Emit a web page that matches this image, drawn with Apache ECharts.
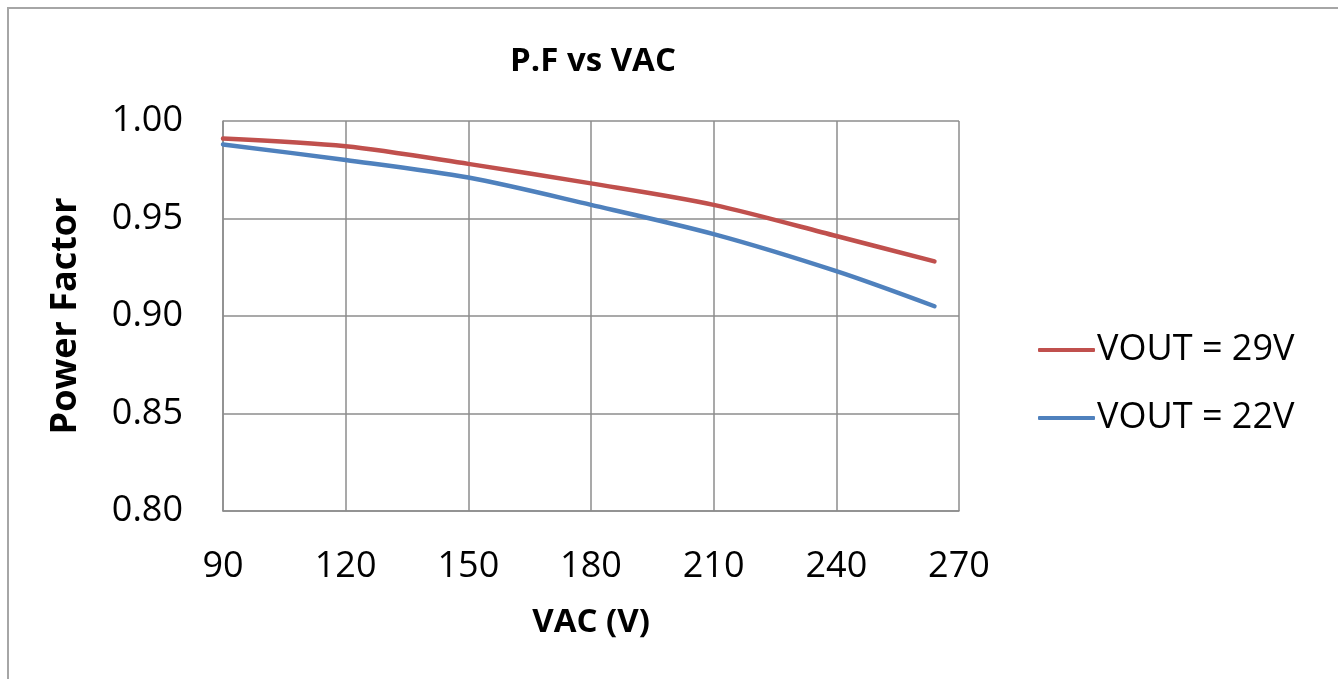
<!DOCTYPE html>
<html>
<head>
<meta charset="utf-8">
<script src="https://cdn.jsdelivr.net/npm/echarts@6/dist/echarts.min.js"></script>
<style>
html,body{margin:0;padding:0;background:#fff;}
#chart{width:1338px;height:679px;}
</style>
</head>
<body>
<div id="chart"></div>
<script>
const vac = [90, 120, 150, 180, 210, 240, 264];
const pf29 = [0.991, 0.987, 0.978, 0.968, 0.957, 0.941, 0.928];
const pf22 = [0.988, 0.980, 0.971, 0.957, 0.942, 0.923, 0.905];
const seriesNames = ['VOUT = 29V', 'VOUT = 22V'];

const FONT = '"Open Sans", "DejaVu Sans", sans-serif';
const chart = echarts.init(document.getElementById('chart'));
chart.setOption({
  animation: false,
  backgroundColor: '#ffffff',
  title: {
    text: 'P.F vs VAC',
    left: 588,
    top: 40,
    textAlign: 'center',
    textStyle: { fontFamily: FONT, fontWeight: 'bold', fontSize: 33, color: '#000' }
  },
  graphic: [{
    type: 'rect',
    shape: { x: 8, y: 8, width: 1400, height: 700 },
    style: { fill: 'none', stroke: '#a6a6a6', lineWidth: 2 },
    silent: true
  }],
  legend: {
    orient: 'vertical',
    left: 1033,
    top: 325,
    itemWidth: 57,
    itemHeight: 4,
    itemGap: 28,
    icon: 'roundRect',
    textStyle: { fontFamily: FONT, fontSize: 36, color: '#000', lineHeight: 40, padding: [0, 0, 0, -3] },
    data: seriesNames
  },
  grid: { left: 223, top: 121, right: 379, bottom: 168, containLabel: false },
  xAxis: {
    type: 'value',
    min: 90, max: 270, interval: 30,
    name: 'VAC (V)',
    nameLocation: 'middle',
    nameGap: 95,
    nameTextStyle: { fontFamily: FONT, fontWeight: 'bold', fontSize: 33, color: '#000' },
    axisLine: { show: true, lineStyle: { color: '#8c8c8c', width: 1.5 } },
    axisTick: { show: false },
    splitLine: { show: true, lineStyle: { color: '#8c8c8c', width: 1.5 } },
    axisLabel: { fontFamily: FONT, fontSize: 36, color: '#000', margin: 38 }
  },
  yAxis: {
    type: 'value',
    min: 0.8, max: 1.0, interval: 0.05,
    name: 'Power Factor',
    nameLocation: 'middle',
    nameGap: 139,
    nameTextStyle: { fontFamily: FONT, fontWeight: 'bold', fontSize: 36, color: '#000' },
    axisLine: { show: true, lineStyle: { color: '#8c8c8c', width: 1.5 } },
    axisTick: { show: false },
    splitLine: { show: true, lineStyle: { color: '#8c8c8c', width: 1.5 } },
    axisLabel: { fontFamily: FONT, fontSize: 36, color: '#000', margin: 40,
      formatter: v => v.toFixed(2) }
  },
  series: [
    {
      name: seriesNames[0], type: 'line', smooth: 0.3, showSymbol: false, symbol: 'none',
      data: vac.map((x, i) => [x, pf29[i]]),
      lineStyle: { color: '#c0504d', width: 4.5, cap: 'round' },
      itemStyle: { color: '#c0504d' }
    },
    {
      name: seriesNames[1], type: 'line', smooth: 0.3, showSymbol: false, symbol: 'none',
      data: vac.map((x, i) => [x, pf22[i]]),
      lineStyle: { color: '#4f81bd', width: 4.5, cap: 'round' },
      itemStyle: { color: '#4f81bd' }
    }
  ]
});
</script>
</body>
</html>
